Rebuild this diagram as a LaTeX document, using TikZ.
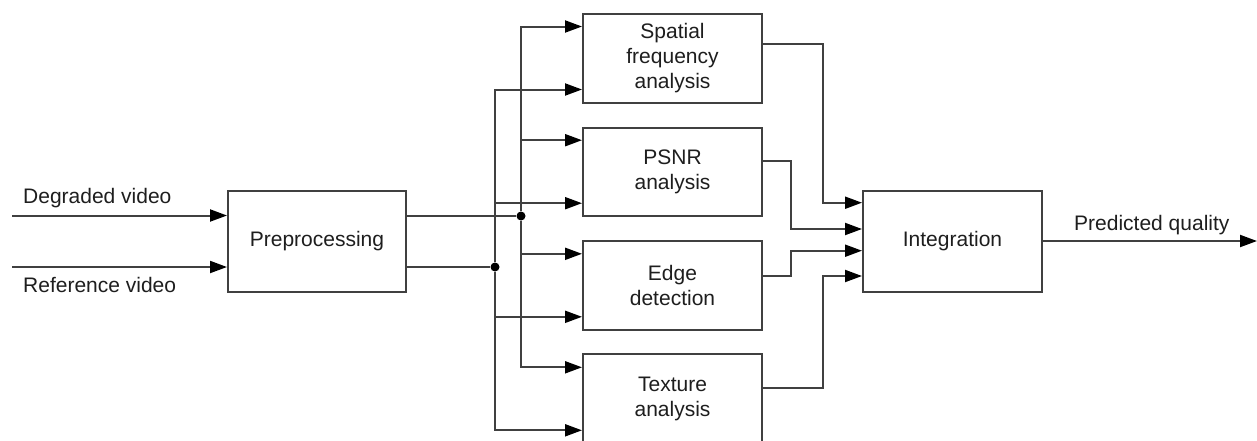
\documentclass[tikz,border=0pt]{standalone}
\usepackage{fontspec}
\setmainfont{Liberation Sans}
\usetikzlibrary{arrows.meta,calc}
\definecolor{ln}{HTML}{404040}
\definecolor{tx}{HTML}{1E1E1E}
\begin{document}
\begin{tikzpicture}[x=1pt,y=-1pt,
  box/.style={draw=ln, line width=2pt, fill=white, text=tx, font=\fontsize{21}{25}\selectfont, align=center, inner sep=0pt},
  wire/.style={draw=ln, line width=2pt},
  arr/.style={wire, -{Triangle[length=17pt,width=12pt,color=black]}},
  lbl/.style={text=tx, font=\fontsize{21}{25}\selectfont, inner sep=0pt},
  junction/.style={circle, fill=black, inner sep=0pt, minimum size=9pt}]
\clip (0,0) rectangle (1257,440);
\fill[white] (0,0) rectangle (1257,440);

% main boxes
\node[box, minimum width=178pt, minimum height=101pt, text height=11.4pt, text depth=0pt] (pre) at (317,241) {Preprocessing};
\node[box, minimum width=179pt, minimum height=101pt, text height=11.4pt, text depth=0pt] (integ) at (952.5,241) {Integration};
\node[box, minimum width=179pt, minimum height=89pt] (spatial) at (672.5,58) {Spatial\\frequency\\analysis};
\node[box, minimum width=179pt, minimum height=88pt] (psnr) at (672.5,171.7) {PSNR\\analysis};
\node[box, minimum width=179pt, minimum height=89pt] (edge) at (672.5,285.3) {Edge\\detection};
\node[box, minimum width=179pt, minimum height=89pt] (texture) at (672.5,398.8) {Texture\\analysis};

% junctions
\node[junction] (dA) at (521,216) {};
\node[junction] (dB) at (495,267) {};

% inputs
\coordinate (inD) at (12,215.5);
\coordinate (inR) at (12,267);
\draw[arr] (inD) -- (pre.west |- inD);
\draw[arr] (inR) -- (pre.west |- inR);
\node[lbl, anchor=base west] (ldeg) at (23,203.3) {Degraded video};
\node[lbl, anchor=base west] (lref) at (23,292) {Reference video};

% preprocessing outputs
\draw[wire] (pre.east |- dA) -- (dA);
\draw[wire] (pre.east |- dB) -- (dB);

% buses
\foreach \b in {spatial,psnr,edge,texture} {
  \draw[arr] (dA) |- ([yshift=31.5pt]\b.west);
  \draw[arr] (dB) |- ([yshift=-31.5pt]\b.west);
}

% analysis outputs
\draw[arr] ([yshift=13.7pt]spatial.east) -| ([xshift=-39pt,yshift=38.3pt]integ.west) -- ([yshift=38.3pt]integ.west);
\draw[arr] ([yshift=11pt]psnr.east) -| ([xshift=-71pt,yshift=12pt]integ.west) -- ([yshift=12pt]integ.west);
\draw[arr] ([yshift=9.3pt]edge.east) -| ([xshift=-71pt,yshift=-9.7pt]integ.west) -- ([yshift=-9.7pt]integ.west);
\draw[arr] ([yshift=10.5pt]texture.east) -| ([xshift=-39pt,yshift=-35pt]integ.west) -- ([yshift=-35pt]integ.west);

% output
\coordinate (out) at (1257,241);
\draw[arr] (integ.east) -- (out);
\node[lbl, anchor=base west] (lout) at (1074,230) {Predicted quality};
\end{tikzpicture}
\end{document}
